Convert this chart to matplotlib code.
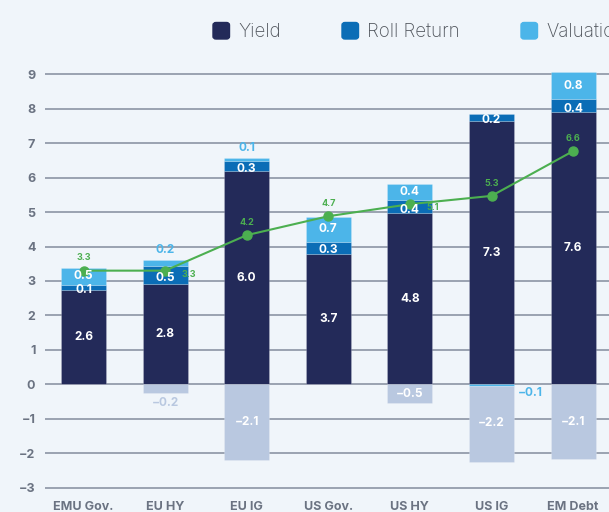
import matplotlib.pyplot as plt
from matplotlib.patches import FancyBboxPatch

# bar heights, printed labels kept as shown
categories = ['EMU Gov.', 'EU HY', 'EU IG', 'US Gov.', 'US HY', 'US IG', 'EM Debt']
yield_vals = [2.75, 2.92, 6.19, 3.79, 4.96, 7.64, 7.90]
roll_vals = [0.13, 0.51, 0.29, 0.35, 0.38, 0.20, 0.37]
valuation_vals = [0.50, 0.19, 0.09, 0.72, 0.47, -0.05, 0.80]
loss_vals = [0.0, -0.24, -2.20, 0.0, -0.54, -2.25, -2.18]
total_vals = [3.30, 3.30, 4.33, 4.88, 5.23, 5.47, 6.77]

yield_lbl = ['2.6', '2.8', '6.0', '3.7', '4.8', '7.3', '7.6']
roll_lbl = ['0.1', '0.5', '0.3', '0.3', '0.4', '0.2', '0.4']
valuation_lbl = ['0.5', '0.2', '0.1', '0.7', '0.4', '\u22120.1', '0.8']
loss_lbl = ['', '\u22120.2', '\u22122.1', '', '\u22120.5', '\u22122.2', '\u22122.1']
total_lbl = ['3.3', '3.3', '4.2', '4.7', '5.1', '5.3', '6.6']

legend_names = ['Yield', 'Roll Return', 'Valuation']

# colours
c_yield = '#232a59'
c_roll = '#0b6db6'
c_val = '#4cb5e9'
c_loss = '#b9c8e0'
c_line = '#4caf50'
c_grid = '#939cab'
c_tick = '#6b7382'
bg = '#f0f5fa'

plt.rcParams['font.family'] = ['Inter', 'DejaVu Sans']

fig = plt.figure(figsize=(6.09, 5.12), dpi=100, facecolor=bg)
# y=-3 at px 487.7, 34.45 px per unit; gridlines start at px 45
ax = fig.add_axes([45 / 609, (512 - 489.4) / 512, 1 - 45 / 609, 12.25 * 34.45 / 512])
ax.set_facecolor(bg)
ax.set_xlim(-0.472, 6.44)
ax.set_ylim(-3.05, 9.2)

x = list(range(len(categories)))
w = 0.55

for y in range(-3, 10):
    ax.axhline(y, color=c_grid, lw=1.3, zorder=0)

ax.bar(x, yield_vals, w, color=c_yield, edgecolor='#ffffff40', lw=0.5, zorder=2)
ax.bar(x, roll_vals, w, bottom=yield_vals, color=c_roll, edgecolor='#ffffff40', lw=0.5, zorder=2)
val_bottom = []
for i in range(len(x)):
    if valuation_vals[i] >= 0:
        val_bottom.append(yield_vals[i] + roll_vals[i])
    else:
        val_bottom.append(0)
ax.bar(x, valuation_vals, w, bottom=val_bottom, color=c_val, edgecolor='#ffffff40', lw=0.5, zorder=2)
loss_bottom = [min(v, 0) for v in valuation_vals]
ax.bar(x, [loss_vals[i] - loss_bottom[i] if loss_vals[i] else 0 for i in x], w,
       bottom=loss_bottom, color=c_loss, edgecolor='#ffffff40', lw=0.5, zorder=2)

lab = dict(ha='center', va='center', fontsize=8.5, fontweight='bold', zorder=5)
for i in x:
    ax.text(i, yield_vals[i] / 2, yield_lbl[i], color='white', **lab)
    ax.text(i, yield_vals[i] + roll_vals[i] / 2 - 0.08, roll_lbl[i], color='white', **lab)
    v = valuation_vals[i]
    top = yield_vals[i] + roll_vals[i]
    if v >= 0.3:
        ax.text(i, top + v / 2, valuation_lbl[i], color='white', **lab)
    elif v > 0:
        ax.text(i, top + v + 0.28, valuation_lbl[i], color=c_val, **lab)
    elif v < 0:
        ax.text(i + 0.48, -0.25, valuation_lbl[i], color=c_val, **lab)
    if loss_lbl[i]:
        if loss_vals[i] < -0.4:
            ax.text(i, loss_vals[i] / 2, loss_lbl[i], color='white', **lab)
        else:
            ax.text(i, loss_vals[i] - 0.3, loss_lbl[i], color=c_loss, **lab)

ax.plot(x, total_vals, color=c_line, lw=1.5, marker='o', ms=6.5, zorder=4)
right_side = [1, 4]
for i in x:
    if i in right_side:
        ax.text(i + 0.2, total_vals[i] - 0.1, total_lbl[i], color=c_line, fontsize=6.5,
                fontweight='bold', ha='left', va='center', zorder=5)
    else:
        ax.text(i, total_vals[i] + 0.37, total_lbl[i], color=c_line, fontsize=6.5,
                fontweight='bold', ha='center', va='center', zorder=5)

ax.set_yticks(range(-3, 10))
ax.set_yticklabels([str(t).replace('-', '\u2212') for t in range(-3, 10)])
ax.set_xticks(x)
ax.set_xticklabels(categories)
ax.tick_params(length=0, labelsize=9, labelcolor=c_tick)
ax.tick_params(axis='y', pad=7)
ax.tick_params(axis='x', pad=8)
for t in ax.get_xticklabels() + ax.get_yticklabels():
    t.set_fontweight('bold')
for s in ax.spines.values():
    s.set_visible(False)

# legend across the top
leg_x = [213, 342, 521]
for px, name, col in zip(leg_x, legend_names, [c_yield, c_roll, c_val]):
    fig.patches.append(FancyBboxPatch((px / 609, 1 - 39 / 512), 16.5 / 609, 16.5 / 512,
                                      boxstyle='round,pad=0,rounding_size=0.005',
                                      transform=fig.transFigure, color=col))
    fig.text((px + 25) / 609, 1 - 32 / 512, name, fontsize=13.5, color='#50555c',
             fontweight='light', va='center', ha='left')

fig.savefig('out.png', dpi=100, facecolor=bg)
